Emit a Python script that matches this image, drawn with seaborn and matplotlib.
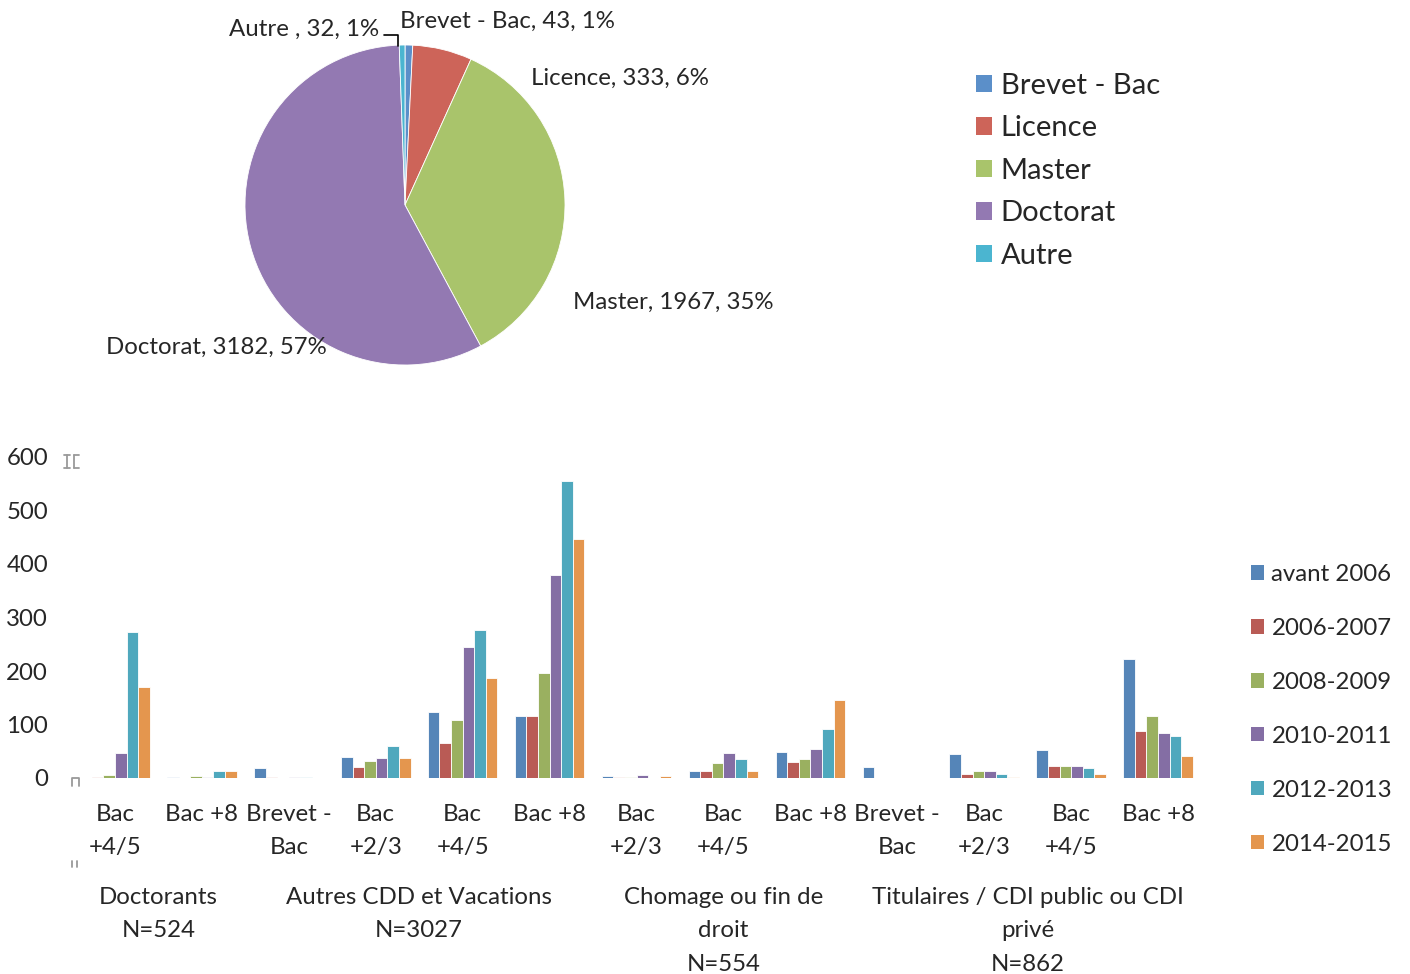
import numpy as np
import pandas as pd
import matplotlib.pyplot as plt
import seaborn as sns
from matplotlib.patches import Patch
from matplotlib.lines import Line2D

# pie data
pie_labels = ["Brevet - Bac", "Licence", "Master", "Doctorat", "Autre"]
pie_values = [43, 333, 1967, 3182, 32]
pie_colors = ["#5B8FC9", "#CD6459", "#A9C46B", "#9379B2", "#4BB5D0"]

# bar data
group_labels = ["Doctorants\nN=524", "Autres CDD et Vacations\nN=3027",
                "Chomage ou fin de\ndroit\nN=554",
                "Titulaires / CDI public ou CDI\nprivé\nN=862"]
group_of_cat = [0, 0, 1, 1, 1, 1, 2, 2, 2, 3, 3, 3, 3]
cat_labels = ["Bac\n+4/5", "Bac +8", "Brevet -\nBac", "Bac\n+2/3", "Bac\n+4/5", "Bac +8",
              "Bac\n+2/3", "Bac\n+4/5", "Bac +8", "Brevet -\nBac", "Bac\n+2/3", "Bac\n+4/5", "Bac +8"]
years = ["avant 2006", "2006-2007", "2008-2009", "2010-2011", "2012-2013", "2014-2015"]
avant_2006 = [0, 1, 18, 39, 123, 116, 4, 14, 49, 20, 44, 52, 222]
y_2006_2007 = [1, 0, 1, 21, 65, 116, 1, 14, 30, 0, 8, 22, 87]
y_2008_2009 = [5, 3, 0, 31, 108, 196, 1, 28, 36, 0, 13, 22, 116]
y_2010_2011 = [47, 1, 1, 37, 245, 379, 6, 46, 54, 0, 13, 23, 84]
y_2012_2013 = [273, 13, 2, 59, 276, 556, 0, 36, 92, 0, 8, 18, 79]
y_2014_2015 = [171, 13, 0, 37, 186, 447, 3, 14, 145, 0, 1, 8, 42]
bar_colors = ["#5585B8", "#B95B55", "#9AB060", "#846EA4", "#4FA8BD", "#E4964E"]

sns.set_style("white")
plt.rcParams['font.family'] = ['Lato', 'DejaVu Sans']

W, H = 1410, 974
fig = plt.figure(figsize=(W / 100, H / 100), dpi=100)


def fx(px):
    return px / W


def fy(py):
    return 1 - py / H


# ---- pie ----
ax_pie = fig.add_axes([fx(245), fy(365), 320 / W, 320 / H])
wedges, _ = ax_pie.pie(pie_values, colors=pie_colors, startangle=90, counterclock=False,
                       radius=1.0, wedgeprops=dict(edgecolor="white", linewidth=0.6))
ax_pie.set_xlim(-1, 1)
ax_pie.set_ylim(-1, 1)
ax_pie.set_aspect("equal")
ax_pie.axis("off")

total = sum(pie_values)
pie_text = {lab: f"{lab}, {v}, {round(100 * v / total)}%" for lab, v in zip(pie_labels, pie_values)}
pie_text["Autre"] = f"Autre , {pie_values[4]}, {round(100 * pie_values[4] / total)}%"
fs = 17.3
fig.text(fx(400), fy(21), pie_text["Brevet - Bac"], fontsize=fs, ha="left", va="center")
fig.text(fx(379), fy(29), pie_text["Autre"], fontsize=fs, ha="right", va="center")
fig.text(fx(531), fy(78), pie_text["Licence"], fontsize=fs, ha="left", va="center")
fig.text(fx(573), fy(302), pie_text["Master"], fontsize=fs, ha="left", va="center")
fig.text(fx(327), fy(347), pie_text["Doctorat"], fontsize=fs, ha="right", va="center")
fig.add_artist(Line2D([fx(384), fx(398), fx(398)], [fy(35), fy(35), fy(46)],
                      color="black", linewidth=1.2, transform=fig.transFigure))

pie_handles = [Patch(facecolor=c, edgecolor="none") for c in pie_colors]
fig.legend(pie_handles, pie_labels, loc="upper left", bbox_to_anchor=(fx(976), fy(73)),
           frameon=False, fontsize=21, handlelength=0.55, handleheight=0.55,
           handletextpad=0.3, labelspacing=0.565, borderaxespad=0, borderpad=0)

# ---- bars ----
rows = []
for yr, vals in zip(years, [avant_2006, y_2006_2007, y_2008_2009, y_2010_2011, y_2012_2013, y_2014_2015]):
    for i, v in enumerate(vals):
        rows.append({"cat": i, "year": yr, "value": v})
df = pd.DataFrame(rows)

ax = fig.add_axes([fx(71.5), fy(778), 1130 / W, 321 / H])
sns.barplot(data=df, x="cat", y="value", hue="year", hue_order=years, palette=bar_colors,
            width=0.8, saturation=1, edgecolor="white", linewidth=0.6, ax=ax, legend=False)
ax.set_xlim(-0.5, 12.5)
ax.set_ylim(0, 600)
ax.set_yticks(range(0, 601, 100))
ax.set_xticks(range(13))
ax.set_xticklabels(cat_labels, fontsize=fs, linespacing=1.72)
ax.tick_params(axis="y", labelsize=fs, length=0, pad=17)
ax.tick_params(axis="x", length=0, pad=18.6)
ax.set_xlabel("")
ax.set_ylabel("")
sns.despine(ax=ax, left=True, bottom=True)
ax.grid(False)

for g, lab in enumerate(group_labels):
    idx = [i for i, gi in enumerate(group_of_cat) if gi == g]
    ax.text(np.mean(idx), -0.34, lab, transform=ax.get_xaxis_transform(),
            ha="center", va="top", fontsize=fs, linespacing=1.72)

bar_handles = [Patch(facecolor=c, edgecolor="none") for c in bar_colors]
fig.legend(bar_handles, years, loc="upper left", bbox_to_anchor=(fx(1251), fy(564)),
           frameon=False, fontsize=fs, handlelength=0.55, handleheight=0.55,
           handletextpad=0.3, labelspacing=1.37, borderaxespad=0, borderpad=0)

# small grey resize marks left of the bar plot
grey = "#9a9a9a"
for xs, ys in [([64, 70], [455, 455]), ([64, 70], [468, 468]), ([67, 67], [455, 468]),
               ([74, 74], [455, 468]), ([74, 79], [455, 455]), ([74, 79], [468, 468]),
               ([72, 72, 79, 79], [786, 778, 778, 786]),
               ([72, 72], [861, 867]), ([77, 77], [861, 867])]:
    fig.add_artist(Line2D([fx(v) for v in xs], [fy(v) for v in ys], color=grey,
                          linewidth=1.3, transform=fig.transFigure))

fig.savefig("out.png", dpi=100)
